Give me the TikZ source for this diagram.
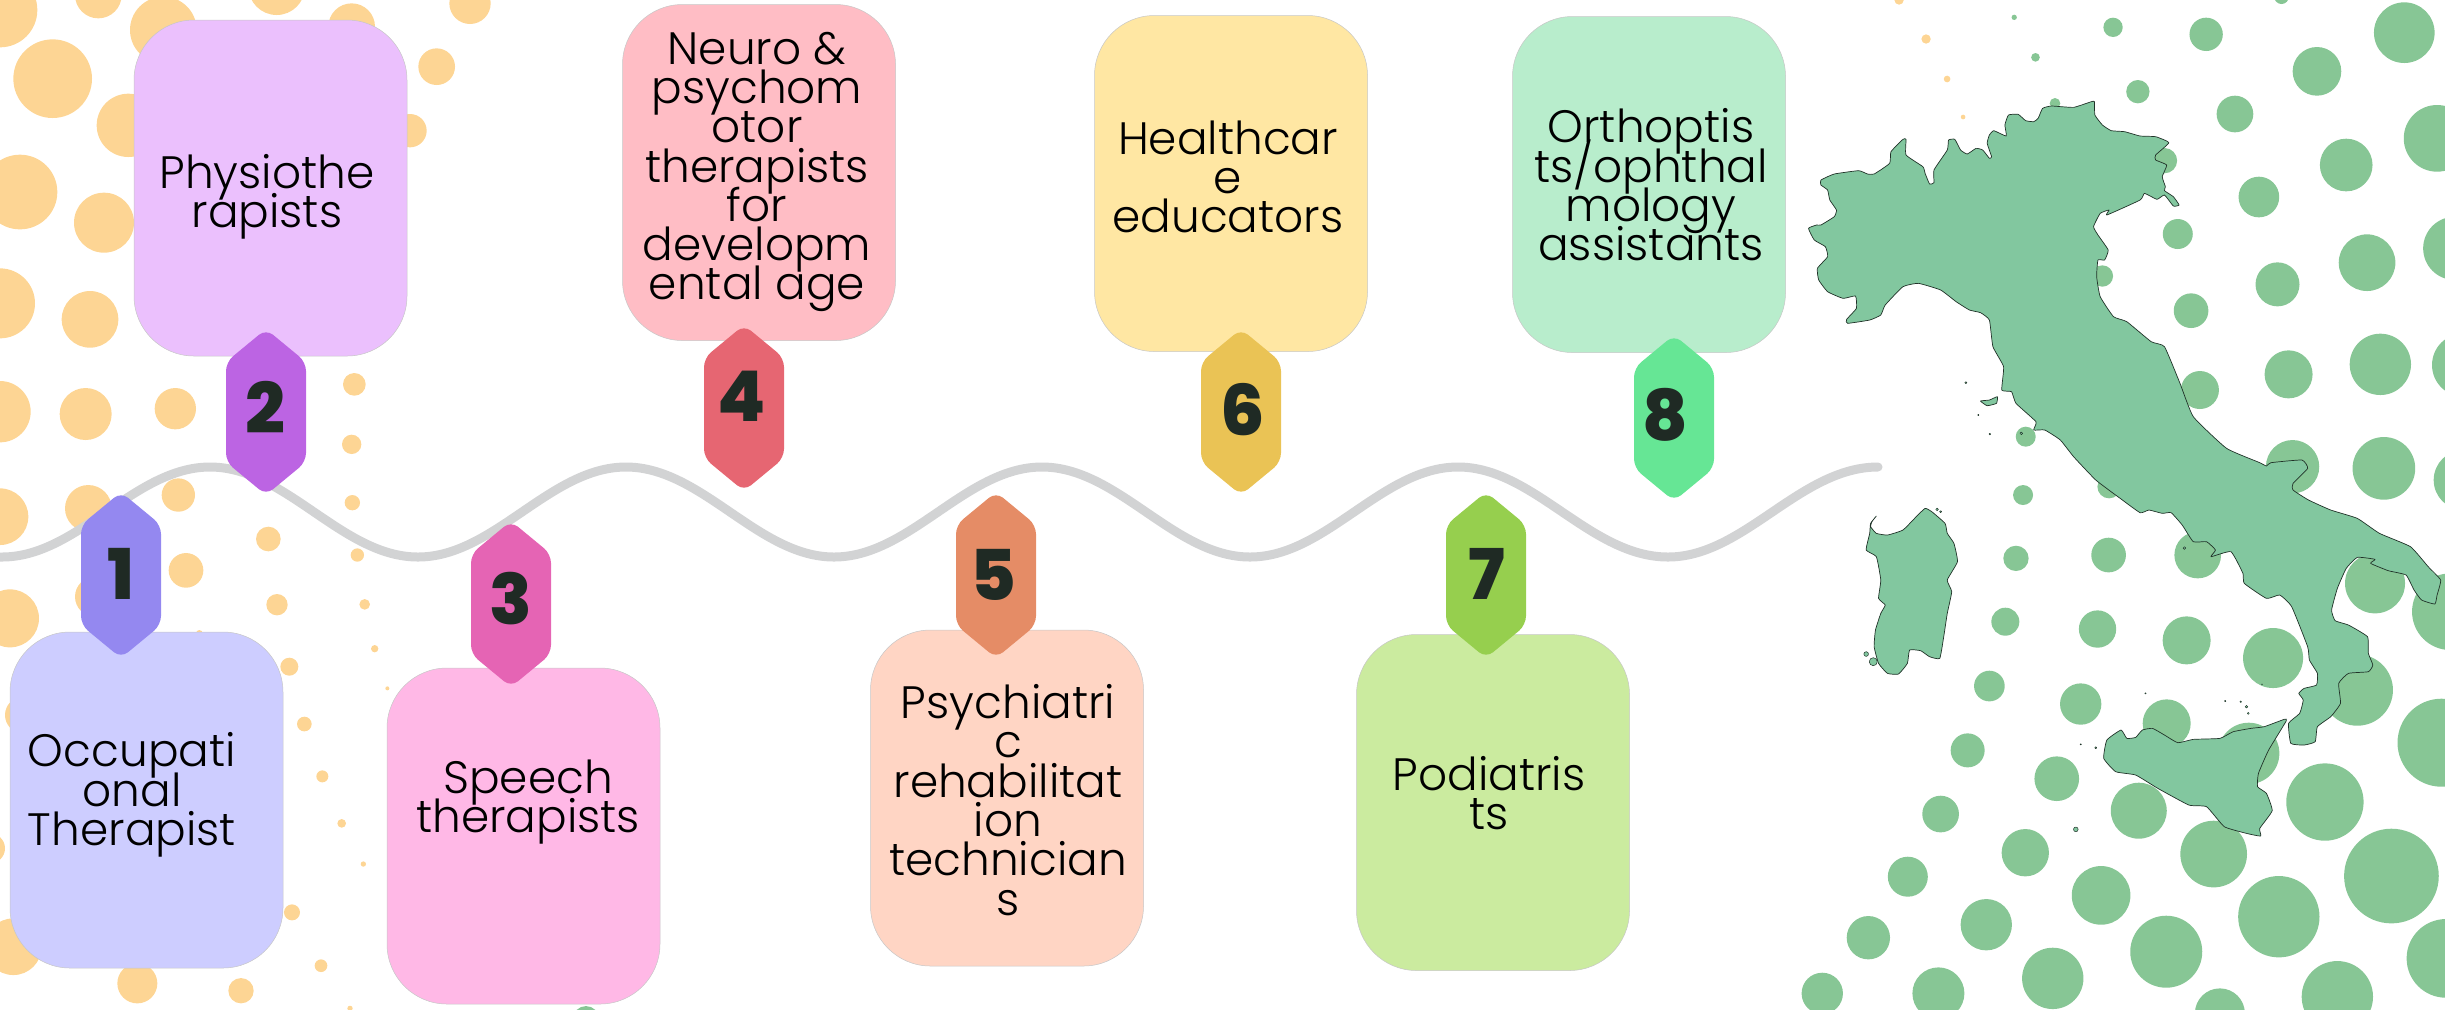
\documentclass[tikz,border=0pt]{standalone}
\usepackage{fontspec}
\setmainfont{Poppins}
\newfontfamily\lblfont{Poppins Light}
\newfontfamily\numfont{Poppins ExtraBold}
\normallineskiplimit=-50pt
\lineskiplimit=-50pt
\definecolor{dotor}{HTML}{FDD594}
\definecolor{dotgr}{HTML}{87C695}
\definecolor{italy}{HTML}{82C79F}
\definecolor{wavec}{HTML}{D2D3D4}
\definecolor{ink}{HTML}{1F2A24}
\definecolor{b1}{HTML}{CDCDFF}\definecolor{h1}{HTML}{9488F0}
\definecolor{b2}{HTML}{EBC0FD}\definecolor{h2}{HTML}{BC64E3}
\definecolor{b3}{HTML}{FFB8E6}\definecolor{h3}{HTML}{E564B4}
\definecolor{b4}{HTML}{FFBDC5}\definecolor{h4}{HTML}{E66672}
\definecolor{b5}{HTML}{FFD5C4}\definecolor{h5}{HTML}{E58C66}
\definecolor{b6}{HTML}{FFE7A3}\definecolor{h6}{HTML}{EAC355}
\definecolor{b7}{HTML}{CBEB9F}\definecolor{h7}{HTML}{96CF4E}
\definecolor{b8}{HTML}{B8EDCC}\definecolor{h8}{HTML}{66E695}
\tikzset{
  bubble/.style={rectangle,rounded corners=30pt,minimum width=136.5pt,minimum height=168pt,draw=black!22,line width=.25pt,inner sep=0pt},
  lbl/.style={align=center,inner sep=0pt,text=black,font=\lblfont\fontsize{22.7}{19.65}\selectfont},
  num/.style={inner sep=0pt,text=ink,font=\numfont\fontsize{35}{35}\selectfont},
  hexa/.style={rounded corners=4.5pt},
  isle/.style={fill=italy,draw=black!75!italy,line width=.35pt,line join=round}
}
\newcommand{\hexagonat}[7]{%
  \fill[#4,hexa,shift={(#2,#3)}] (0,-83) -- (40,-50) -- (40,50) -- (0,83) -- (-40,50) -- (-40,-50) -- cycle;
  \node[num] (#1) at (#5,#6) {#7};
}
\begin{document}
\begin{tikzpicture}[x=.5pt,y=-.5pt]
\useasboundingbox (0,0) rectangle (2445,1009);
\clip (0,0) rectangle (2445,1009);
% orange dots (units: 1/3 px)
\begin{scope}[x=.16667pt,y=-.16667pt]
\foreach \p/\q/\r in {0/30/112,295/-15/70,490/90/100,830/-40/85,1055/80/70,1410/10/62,158/236/118,385/376/95,1310/200/55,1230/392/50,60/576/112,312/668/90,0/910/105,270/958/85,0/1235/92,257/1242/78,526/1226/62,1063/1153/34,1055/1333/29,
0/1550/85,265/1525/70,535/1485/50,1057/1508/23,805/1617/37,558/1711/52,1072/1665/20,30/1855/87,285/1790/60,831/1814/32,1094/1813/16,1124/1946/11,868/2000/27,598/1900/10,70/2145/55,913/2172/22,1162/2065/6,967/2329/18,1025/2470/13,1090/2592/8,-30/2545/45,876/2737/24,40/2840/85,963/2897/19,412/2950/60,723/2972/38,1050/3025/8,
5697/0/14,5778/117/14,5841/237/10,5889/351/7}
  \fill[dotor] (\p,\q) circle[radius=\r*.16667pt];
\end{scope}
% green dots (units of the crop: x 1/2.256 px, y 1/3 px, from x=1750)
\begin{scope}[x=.22163pt,y=-.16667pt,shift={(875pt,0pt)}]
\foreach \p/\q/\r in {-2626/3057/39,596/52/8,644/172/13,819/82/29,1029/103/50,1476/98/91,1199/-10/22,875/275/35,1279/214/73,688/310/16,1094/342/55,1550/415/100,1345/495/79,935/482/38,1148/591/61,965/702/45,1392/788/85,1190/853/66,1590/745/95,795/828/32,995/932/52,1422/1093/92,1215/1123/72,1015/1170/57,1610/1095/95,1224/1400/80,1430/1405/94,622/1310/30,1610/1440/90,616/1485/30,810/1460/35,
600/1675/38,809/1665/52,1010/1665/70,1410/1750/90,1580/1835/115,576/1865/42,784/1887/56,985/1921/72,1180/1974/90,1370/2070/107,1560/2228/132,540/2058/46,746/2112/62,940/2170/72,1125/2260/92,491/2251/51,692/2336/67,877/2432/84,1297/2406/116,430/2442/55,621/2558/71,1046/2562/100,1447/2628/142,356/2630/60,533/2774/77,792/2686/88,1193/2750/122,1570/2875/118,267/2813/65,683/2935/92,939/2855/108,1325/2990/107,163/2980/62,425/2980/78,1060/3040/75}
  \fill[dotgr] (\p,\q) circle[radius=\r*.16667pt];
\end{scope}
% Italy
\begin{scope}[x=.22163pt,y=-.16667pt,shift={(875pt,0pt)}]
\draw[isle] plot[smooth cycle,tension=.25] coordinates {(160,540)(190,522)(245,512)(265,522)(280,522)(315,490)(318,455)(345,418)(352,418)(352,465)(390,500)(395,520)(405,552)(415,548)(415,510)(445,450)(448,420)(462,418)(475,450)(490,462)(510,445)(525,450)(540,475)(545,470)(535,430)(540,405)(550,392)(578,408)(575,375)(583,345)(605,343)(622,362)(640,365)(650,355)(660,325)(680,318)(730,322)(770,305)(777,305)(778,345)(795,375)(815,392)(845,395)(880,408)(915,410)(945,428)(915,465)(915,480)(940,495)(930,530)(937,560)(935,572)(955,590)(968,615)(955,618)(935,585)(918,598)(890,580)(880,600)(805,645)(810,630)(790,640)(775,680)(785,705)(808,750)(800,780)(785,780)(782,830)(790,890)(820,950)(850,965)(905,1025)(935,1040)(970,1150)(1000,1250)(1075,1345)(1150,1388)(1165,1398)(1175,1388)(1245,1380)(1258,1405)(1225,1450)(1225,1470)(1260,1500)(1310,1530)(1370,1555)(1420,1600)(1490,1640)(1530,1700)(1558,1740)(1550,1785)(1545,1812)(1515,1800)(1498,1770)(1480,1725)(1440,1712)(1400,1690)(1410,1678)(1370,1672)(1345,1705)(1325,1765)(1312,1830)(1320,1862)(1350,1875)(1393,1910)(1395,1960)(1405,1995)(1395,2015)(1350,2020)(1328,2050)(1332,2110)(1310,2150)(1280,2180)(1275,2225)(1250,2235)(1220,2230)(1215,2170)(1240,2140)(1248,2100)(1238,2080)(1250,2065)(1278,2055)(1280,2020)(1262,1980)(1258,1940)(1222,1820)(1195,1785)(1165,1795)(1115,1750)(1112,1720)(1085,1655)(1040,1670)(1050,1650)(1030,1625)(1000,1625)(975,1575)(950,1538)(930,1540)(900,1530)(880,1538)(835,1495)(780,1440)(730,1370)(700,1320)(665,1290)(640,1290)(645,1265)(600,1210)(590,1175)(568,1170)(572,1100)(548,1040)(540,960)(520,938)(495,930)(465,905)(430,870)(380,850)(345,860)(305,915)(295,945)(270,960)(220,970)(218,958)(240,925)(238,888)(210,895)(175,875)(155,840)(152,805)(175,770)(170,740)(145,720)(132,685)(150,675)(160,675)(190,650)(195,630)(180,600)(175,570)(160,555)};
\draw[isle] plot[smooth cycle,tension=.25] coordinates {(285,1548)(275,1565)(272,1580)(285,1600)(310,1605)(345,1590)(375,1550)(395,1525)(410,1535)(440,1570)(445,1600)(460,1630)(468,1685)(445,1740)(455,1775)(445,1840)(437,1910)(428,1975)(405,1970)(385,1952)(360,1950)(355,1990)(335,2022)(310,2020)(290,1990)(280,1940)(283,1890)(295,1840)(305,1815)(290,1795)(295,1740)(285,1670)(262,1650)(270,1600)(272,1570)};
\draw[isle] plot[smooth cycle,tension=.25] coordinates {(837,2190)(850,2215)(870,2212)(885,2190)(908,2185)(935,2205)(965,2228)(1000,2218)(1060,2215)(1090,2195)(1130,2185)(1160,2180)(1205,2158)(1210,2162)(1170,2250)(1147,2320)(1145,2360)(1165,2380)(1178,2432)(1150,2485)(1152,2508)(1120,2500)(1070,2480)(1030,2420)(990,2415)(920,2365)(870,2325)(825,2315)(798,2275)(805,2220)};
\draw[isle] plot[smooth cycle,tension=.25] coordinates {(520,1203)(540,1200)(558,1190)(556,1210)(535,1217)};
\foreach \p/\q/\r in {487/1148/3,515/1245/2,541/1302/2.5,612/1300/4,980/1644/4,1155/2053/1.5,892/2080/2,1072/2103/2,1107/2105/2.5,1120/2120/4,1124/2140/3,746/2233/2,780/2243/3,735/2488/7,262/1962/7,278/1985/12,422/1528/4,430/1535/3}
  \draw[isle,line width=.25pt] (\p,\q) circle[radius=\r*.16667pt];
\end{scope}
% wave
\draw[wavec,line width=4.5pt,line cap=round] (-10,557) -- (2,557) .. controls (78,557) and (134,467) .. (210,467) .. controls (286,467) and (342,557) .. (418,557) .. controls (494,557) and (550,467) .. (626,467) .. controls (702,467) and (758,557) .. (834,557) .. controls (910,557) and (966,467) .. (1042,467) .. controls (1118,467) and (1174,557) .. (1250,557) .. controls (1326,557) and (1382,467) .. (1458,467) .. controls (1534,467) and (1590,557) .. (1668,557) .. controls (1744,557) and (1800,467) .. (1878,467);
% bubbles
\node[bubble,fill=b1] (box1) at (146.5,800) {};
\node[bubble,fill=b2] (box2) at (270.5,188) {};
\node[bubble,fill=b3] (box3) at (523.5,836) {};
\node[bubble,fill=b4] (box4) at (759,172.5) {};
\node[bubble,fill=b5] (box5) at (1007,798) {};
\node[bubble,fill=b6] (box6) at (1231,183.5) {};
\node[bubble,fill=b7] (box7) at (1493,802.5) {};
\node[bubble,fill=b8] (box8) at (1649,184.5) {};
% labels
\node[lbl] (t1) at (132,795) {Occupati\\onal\\Therapist};
\node[lbl] (t2) at (267,197) {Physiothe\\rapists};
\node[lbl] (t3) at (528,802) {Speech\\therapists};
\node[lbl] (t4) at (757,172) {Neuro \&\\psychom\\otor\\therapists\\for\\developm\\ental age};
\node[lbl] (t5) at (1008,800) {Psychiatri\\c\\rehabilitat\\ion\\technician\\s};
\node[lbl] (t6) at (1228,177) {Healthcar\\e\\educators};
\node[lbl] (t7) at (1489,793) {Podiatris\\ts};
\node[lbl] (t8) at (1651,185) {Orthoptis\\ts/ophthal\\mology\\assistants};
% hexagons
\hexagonat{n1}{121}{575}{h1}{121}{574}{1}
\hexagonat{n2}{266}{412}{h2}{265}{407}{2}
\hexagonat{n3}{511}{604}{h3}{511}{599}{3}
\hexagonat{n4}{744}{408}{h4}{742}{396}{4}
\hexagonat{n5}{996}{575}{h5}{993}{575}{5}
\hexagonat{n6}{1241}{412}{h6}{1243}{410}{6}
\hexagonat{n7}{1486}{575}{h7}{1487}{574}{7}
\hexagonat{n8}{1674}{418}{h8}{1665}{415}{8}
\end{tikzpicture}
\end{document}
